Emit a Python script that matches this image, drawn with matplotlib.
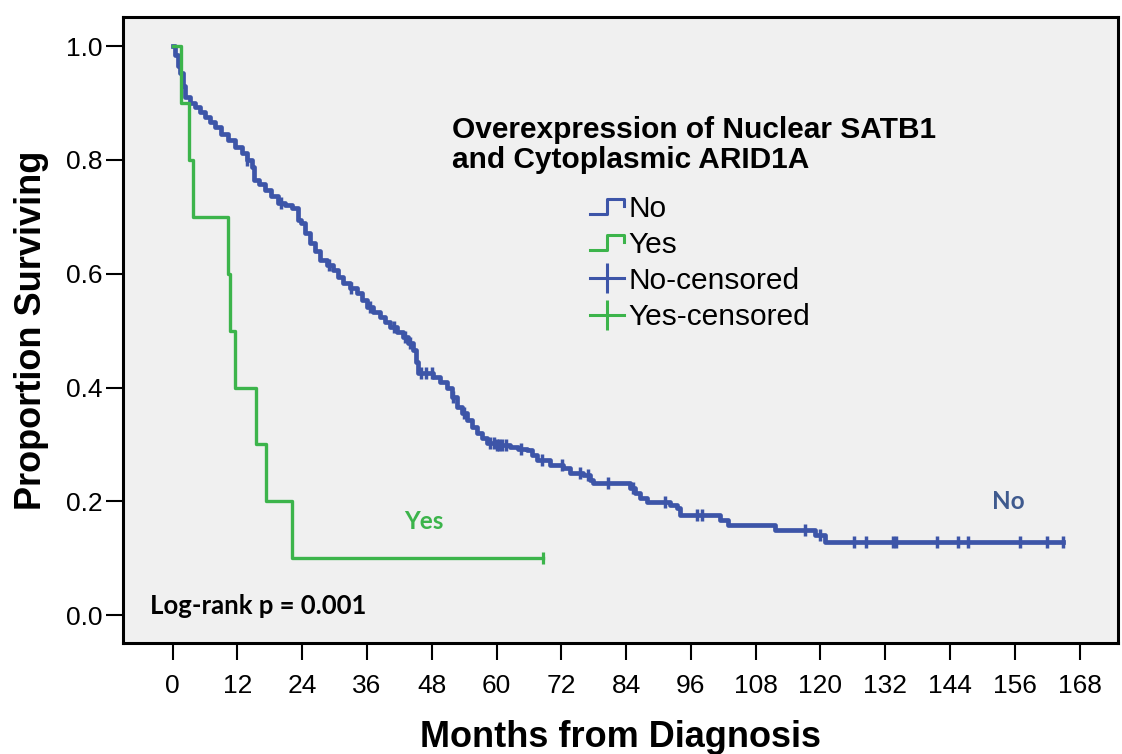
import matplotlib
matplotlib.use('Agg')
import matplotlib.pyplot as plt
from matplotlib.lines import Line2D
from matplotlib.legend_handler import HandlerBase

# Kaplan-Meier steps, "No" group (months, survival after each drop)
no_time = [0, 0.5, 1.0, 1.4, 1.9, 2.3, 3.2, 4.2, 5.1, 6.0, 7.0, 7.9, 9.0, 10.3,
           11.6, 12.9, 13.8, 14.7, 15.0, 16.0, 17.1, 18.3, 19.5, 20.8, 22.1,
           23.2, 23.8, 24.6, 25.5, 26.4, 27.3, 28.5, 29.7, 30.6, 31.6, 32.9,
           34.2, 35.1, 36.0, 37.2, 38.4, 39.3, 40.3, 41.5, 42.7, 43.6, 44.5,
           45.0, 45.5, 48.2, 49.5, 50.8, 51.8, 52.7, 53.6, 54.5, 55.5, 56.4,
           57.3, 58.2, 60.0, 62.5, 64.0, 65.6, 66.5, 67.5, 69.9, 72.3, 73.6,
           76.0, 77.3, 77.9, 84.7, 85.6, 86.6, 87.9, 92.1, 93.4, 94.0, 101.4,
           102.9, 111.6, 119.0, 120.8, 164.9]
no_surv = [1.0, 0.985, 0.965, 0.953, 0.93, 0.91, 0.90, 0.893, 0.884, 0.875,
           0.866, 0.858, 0.846, 0.835, 0.823, 0.812, 0.80, 0.787, 0.765, 0.757,
           0.747, 0.736, 0.724, 0.72, 0.715, 0.694, 0.689, 0.672, 0.654, 0.639,
           0.624, 0.615, 0.606, 0.595, 0.583, 0.575, 0.566, 0.553, 0.541, 0.533,
           0.524, 0.515, 0.506, 0.498, 0.489, 0.478, 0.466, 0.445, 0.425, 0.418,
           0.41, 0.40, 0.383, 0.366, 0.355, 0.343, 0.331, 0.32, 0.311, 0.302,
           0.299, 0.295, 0.292, 0.29, 0.281, 0.272, 0.264, 0.258, 0.25, 0.246,
           0.237, 0.232, 0.223, 0.215, 0.206, 0.199, 0.193, 0.188, 0.176, 0.167,
           0.158, 0.149, 0.141, 0.128, 0.128]
no_censored = [13.8, 20.0, 29.0, 33.0, 36.5, 41.0, 43.0, 44.0, 46.0, 47.0, 48.0,
               52.0, 54.0, 58.8, 59.5, 60.0, 60.5, 61.0, 61.8, 64.5, 68.4, 72.1,
               75.5, 77.0, 80.6, 85.3, 91.2, 97.1, 98.1, 117.1, 119.9, 126.2,
               128.4, 133.4, 133.9, 141.6, 145.5, 147.3, 156.9, 161.9, 164.9]

# "Yes" group
yes_time = [0, 1.6, 3.1, 3.8, 10.3, 10.6, 11.6, 15.5, 17.3, 22.1, 68.6]
yes_surv = [1.0, 0.9, 0.8, 0.7, 0.6, 0.5, 0.4, 0.3, 0.2, 0.1, 0.1]
yes_censored = [68.6]

x_ticks = list(range(0, 169, 12))
y_ticks = [0.0, 0.2, 0.4, 0.6, 0.8, 1.0]

blue = '#3d55a8'
green = '#3cb44b'


def surv_at(times, surv, t):
    s = surv[0]
    for ti, si in zip(times, surv):
        if ti <= t:
            s = si
    return s


class StepHandler(HandlerBase):
    # little step glyph used for the curve entries
    def create_artists(self, legend, orig_handle, xdescent, ydescent,
                       width, height, fontsize, trans):
        x0, y0 = -xdescent, -ydescent
        xs = [x0, x0 + 0.5 * width, x0 + 0.5 * width, x0 + width, x0 + width]
        ys = [y0 + 0.15 * height, y0 + 0.15 * height, y0 + 0.85 * height,
              y0 + 0.85 * height, y0 + 0.5 * height]
        ln = Line2D(xs, ys, color=orig_handle.get_color(), lw=2.2,
                    transform=trans)
        return [ln]


plt.rcParams['font.family'] = ['Liberation Sans', 'DejaVu Sans']

fig = plt.figure(figsize=(11.22, 7.54), dpi=100)
ax = fig.add_axes([0.1096, 0.1472, 0.8868, 0.8302])
ax.set_facecolor('#f0f0f0')

ax.step(no_time, no_surv, where='post', color=blue, lw=3.4)
ax.step(yes_time, yes_surv, where='post', color=green, lw=2.4)

no_cy = [surv_at(no_time, no_surv, t) for t in no_censored]
yes_cy = [surv_at(yes_time, yes_surv, t) for t in yes_censored]
ax.plot(no_censored, no_cy, ls='none', marker='|', ms=9, mew=2.5, color=blue)
ax.plot(yes_censored, yes_cy, ls='none', marker='|', ms=9, mew=2.3, color=green)

ax.set_xlim(-9.2, 175.1)
ax.set_ylim(-0.049, 1.051)
ax.set_xticks(x_ticks)
ax.set_yticks(y_ticks)
ax.set_yticklabels(['%.1f' % v for v in y_ticks])
ax.tick_params(axis='both', labelsize=19, length=12, width=1.5)
ax.tick_params(axis='x', pad=10)
ax.tick_params(axis='y', pad=3)
for sp in ax.spines.values():
    sp.set_linewidth(2.2)

ax.set_xlabel('Months from Diagnosis', fontsize=26, fontweight='bold', labelpad=16)
ax.set_ylabel('Proportion Surviving', fontsize=26, fontweight='bold', labelpad=12)

ax.text(0.3307, 0.842, 'Overexpression of Nuclear SATB1\nand Cytoplasmic ARID1A',
        transform=ax.transAxes, fontsize=21.5, fontweight='bold',
        va='top', ha='left', linespacing=1.08)

h_no = Line2D([], [], color=blue)
h_yes = Line2D([], [], color=green)
h_noc = Line2D([], [], color=blue, lw=2.2, marker='|', ms=22, mew=2.2)
h_yesc = Line2D([], [], color=green, lw=2.2, marker='|', ms=22, mew=2.2)
ax.legend([h_no, h_yes, h_noc, h_yesc],
          ['No', 'Yes', 'No-censored', 'Yes-censored'],
          handler_map={h_no: StepHandler(), h_yes: StepHandler()},
          loc='upper left', bbox_to_anchor=(0.4693, 0.716), frameon=False,
          fontsize=21.5, handlelength=1.15, handletextpad=0.15,
          labelspacing=0.27, borderpad=0, borderaxespad=0, numpoints=1)

ax.text(46.6, 0.165, 'Yes', color=green, fontsize=17.5, fontweight='bold',
        family='Lato', ha='center', va='center')
ax.text(154.7, 0.199, 'No', color='#3f5a8e', fontsize=17.5, fontweight='bold',
        family='Lato', ha='center', va='center')
ax.text(0.027, 0.059, 'Log-rank p = 0.001', transform=ax.transAxes,
        fontsize=18.5, fontweight='bold', family='Lato', ha='left', va='center')

fig.savefig('out.png', dpi=100)
